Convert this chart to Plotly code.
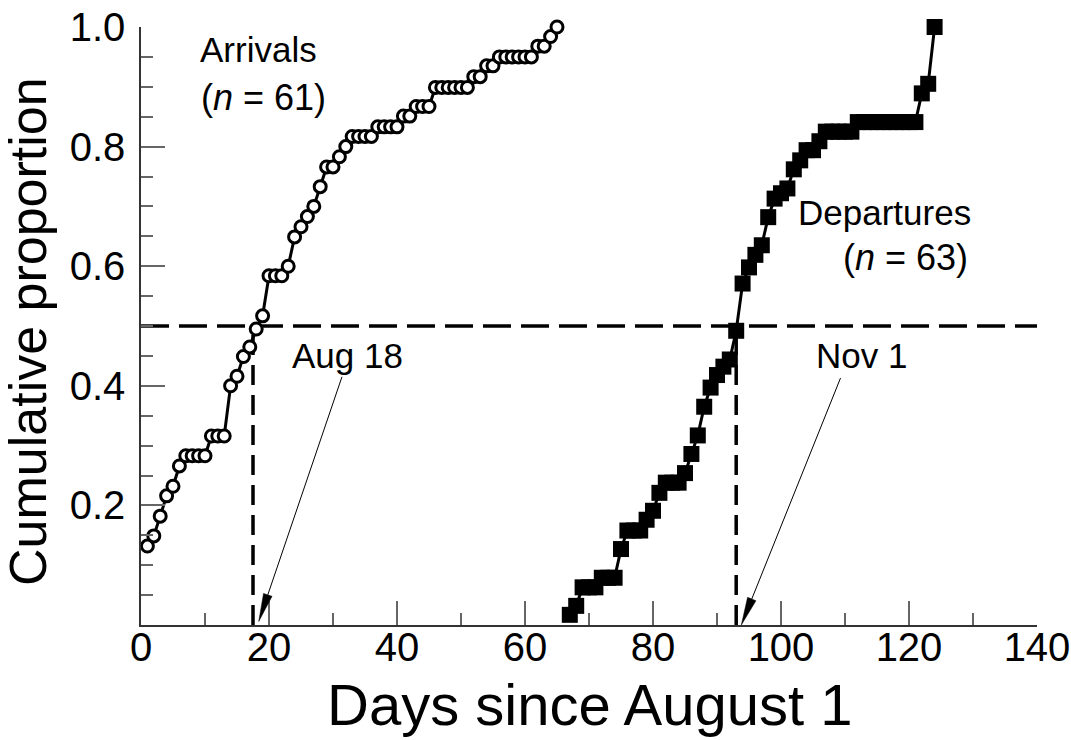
import math
import plotly.graph_objects as go

# ---- data ----
arr_days = list(range(1, 66))
arr_prop = [0.132, 0.149, 0.182, 0.216, 0.232, 0.266, 0.283, 0.283, 0.283, 0.283,
            0.316, 0.316, 0.316, 0.400, 0.416, 0.449, 0.465, 0.495, 0.517,
            0.584, 0.584, 0.584, 0.600, 0.649, 0.666, 0.683, 0.700, 0.733,
            0.766, 0.766, 0.783, 0.800, 0.817, 0.817, 0.817, 0.817,
            0.833, 0.833, 0.833, 0.833, 0.851, 0.851, 0.867, 0.867, 0.867,
            0.899, 0.899, 0.899, 0.899, 0.899, 0.899, 0.917, 0.917, 0.935, 0.935,
            0.950, 0.950, 0.950, 0.950, 0.950, 0.950, 0.968, 0.968, 0.984, 1.000]

dep_days = [67, 68, 69, 70, 71, 72, 73, 74, 75, 76, 77, 78, 79, 80, 81, 82, 83, 84,
            85, 86, 87, 88, 89, 90, 91, 92, 93, 94, 95, 96, 97, 98, 99, 100, 101,
            102, 103, 104, 105, 106, 107, 108, 109, 110, 111,
            112, 113, 114, 115, 116, 117, 118, 119, 120, 121, 122, 123, 124]
dep_prop = [0.017, 0.032, 0.063, 0.063, 0.063, 0.079, 0.079, 0.079, 0.127,
            0.158, 0.158, 0.158, 0.176, 0.191, 0.221, 0.238, 0.238, 0.238,
            0.254, 0.286, 0.317, 0.365, 0.397, 0.418, 0.432, 0.444, 0.492,
            0.571, 0.598, 0.619, 0.635, 0.682, 0.713, 0.722, 0.730,
            0.762, 0.777, 0.794, 0.794, 0.809, 0.825, 0.825, 0.825, 0.825, 0.825,
            0.841, 0.841, 0.841, 0.841, 0.841, 0.841, 0.841, 0.841, 0.841, 0.841,
            0.889, 0.905, 1.000]

median_level = 0.5
median_arr_day = 17.5
median_dep_day = 93
x_ticks = [0, 20, 40, 60, 80, 100, 120, 140]
y_ticks = [0.2, 0.4, 0.6, 0.8, 1.0]
y_tick_text = ["0.2", "0.4", "0.6", "0.8", "1.0"]

# arrow (tail -> tip) positions for the median labels, in data units
arrow_arr = dict(tail=(31.4, 0.415), tip=(18.4, 0.006))
arrow_dep = dict(tail=(109.3, 0.413), tip=(93.8, 0.0))

FONT = "Liberation Sans, Arial, sans-serif"
W, H = 1071, 740
M = dict(l=141, r=34, t=27, b=115, autoexpand=False)
X_RANGE = [0, 140]
Y_RANGE = [0, 1]
PW = W - M["l"] - M["r"]
PH = H - M["t"] - M["b"]
px_per_x = PW / (X_RANGE[1] - X_RANGE[0])
px_per_y = PH / (Y_RANGE[1] - Y_RANGE[0])

fig = go.Figure()

# median reference dashed lines
fig.add_trace(go.Scatter(x=X_RANGE, y=[median_level, median_level], mode="lines",
                         line=dict(color="black", width=3.5, dash="28px,10px"),
                         hoverinfo="skip", showlegend=False, cliponaxis=False))
for d in (median_arr_day, median_dep_day):
    fig.add_trace(go.Scatter(x=[d, d], y=[0, median_level], mode="lines",
                             line=dict(color="black", width=3.5, dash="20px,10px"),
                             hoverinfo="skip", showlegend=False, cliponaxis=False))

fig.add_trace(go.Scatter(x=arr_days, y=arr_prop, mode="lines+markers", name="Arrivals",
                         line=dict(color="black", width=3),
                         marker=dict(symbol="circle", size=12, color="white",
                                     line=dict(color="black", width=3)),
                         showlegend=False, cliponaxis=False))
fig.add_trace(go.Scatter(x=dep_days, y=dep_prop, mode="lines+markers", name="Departures",
                         line=dict(color="black", width=3),
                         marker=dict(symbol="square", size=16, color="black",
                                     line=dict(color="black", width=0)),
                         showlegend=False, cliponaxis=False))


def arrow_shapes(tail, tip, head_len=28, half_w=4.5):
    # direction in pixel space (y up)
    dxp = (tip[0] - tail[0]) * px_per_x
    dyp = (tip[1] - tail[1]) * px_per_y
    L = math.hypot(dxp, dyp)
    ux, uy = dxp / L, dyp / L
    bx, by = -ux * head_len, -uy * head_len          # base centre offset (px)
    px_, py_ = -uy * half_w, ux * half_w             # perpendicular (px)
    p1 = (tip[0] + (bx + px_) / px_per_x, tip[1] + (by + py_) / px_per_y)
    p2 = (tip[0] + (bx - px_) / px_per_x, tip[1] + (by - py_) / px_per_y)
    base = (tip[0] + bx / px_per_x, tip[1] + by / px_per_y)
    line = dict(type="line", xref="x", yref="y", x0=tail[0], y0=tail[1],
                x1=base[0], y1=base[1], line=dict(color="black", width=1))
    head = dict(type="path", xref="x", yref="y",
                path=f"M {tip[0]},{tip[1]} L {p1[0]},{p1[1]} L {p2[0]},{p2[1]} Z",
                fillcolor="black", line=dict(color="black", width=0.5))
    return [line, head]


shapes = arrow_shapes(**arrow_arr) + arrow_shapes(**arrow_dep)

ann_font = dict(family=FONT, size=35, color="black")
C = dict(showarrow=False, xanchor="center", yanchor="middle")
annotations = [
    dict(x=18.3, y=0.962, xref="x", yref="y", text="Arrivals", font=ann_font, **C),
    dict(x=19.1, y=0.882, xref="x", yref="y", text="(<i>n</i> = 61)",
         font=dict(ann_font, size=36), **C),
    dict(x=116.2, y=0.689, xref="x", yref="y", text="Departures", font=ann_font, **C),
    dict(x=119.4, y=0.615, xref="x", yref="y", text="(<i>n</i> = 63)",
         font=dict(ann_font, size=36), **C),
    dict(x=32.2, y=0.451, xref="x", yref="y", text="Aug 18", font=ann_font, **C),
    dict(x=112.5, y=0.451, xref="x", yref="y", text="Nov 1", font=ann_font, **C),
    # axis titles
    dict(x=(590 - M["l"]) / PW, y=(M["t"] + PH - 704) / PH, xref="paper", yref="paper",
         text="Days since August 1", font=dict(family=FONT, size=58, color="black"), **C),
    dict(x=(28 - M["l"]) / PW, y=(M["t"] + PH - 332) / PH, xref="paper", yref="paper",
         text="Cumulative proportion", textangle=-90,
         font=dict(family=FONT, size=52, color="black"), **C),
]

axis_common = dict(ticks="inside", ticklen=24, tickwidth=1.5, tickcolor="#666666",
                   showline=True, linecolor="#333333", linewidth=1.5,
                   showgrid=False, zeroline=False, automargin=False,
                   tickfont=dict(family=FONT, size=40, color="black"))

fig.update_layout(
    width=W, height=H,
    margin=M,
    paper_bgcolor="white", plot_bgcolor="white",
    annotations=annotations,
    shapes=shapes,
    xaxis=dict(range=X_RANGE, tickmode="array", tickvals=x_ticks,
               ticklabelstandoff=-14,
               minor=dict(tickmode="linear", tick0=0, dtick=10, ticks="inside",
                          ticklen=12, tickwidth=1.5, tickcolor="#666666"),
               **axis_common),
    yaxis=dict(range=Y_RANGE, tickmode="array", tickvals=y_ticks, ticktext=y_tick_text,
               ticklabelstandoff=6,
               minor=dict(tickmode="linear", tick0=0, dtick=0.05, ticks="inside",
                          ticklen=12, tickwidth=1.5, tickcolor="#666666"),
               **axis_common),
)

fig.write_html("out.html", config={"displayModeBar": False},
               post_script="document.body.style.margin='0';document.body.style.overflow='hidden';")
